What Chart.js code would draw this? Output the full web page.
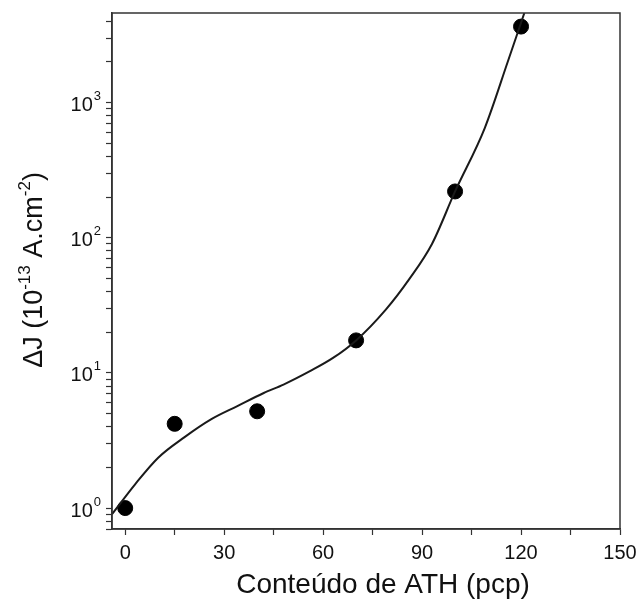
<!DOCTYPE html>
<html lang="pt">
<head>
<meta charset="UTF-8">
<title>ΔJ vs Conteúdo de ATH</title>
<script src="https://cdn.jsdelivr.net/npm/chart.js"></script>
<style>
    * { margin: 0; padding: 0; box-sizing: border-box; }
    body { background: #fff; }
    .wrap { width: 639px; height: 600px; position: relative; }
</style>
</head>
<body>
<div class="wrap"><canvas id="chart"></canvas></div>
<script>
    // measured points (pcp ATH vs ΔJ)
    const athContent = [0, 15, 40, 70, 100, 120];
    const deltaJ = [1.0, 4.2, 5.2, 17.4, 220, 3650];

    // fitted curve
    const fitX = [-4, 3, 10, 18, 26, 34, 42, 48, 56, 63, 70, 79, 86, 93, 100, 109, 116, 121];
    const fitY = [0.9, 1.5, 2.36, 3.35, 4.53, 5.68, 7.1, 8.2, 10.3, 12.9, 17.4, 29.4, 49, 90, 220, 648, 2013, 4600];

    // ticks
    const xTicks = [0, 15, 30, 45, 60, 75, 90, 105, 120, 135, 150];
    const xLabelled = [0, 30, 60, 90, 120, 150];
    const yDecades = [0.1, 1, 10, 100, 1000];

    const FONT = "'Liberation Sans', Arial, sans-serif";
    const INK = '#111';
    const AXIS = '#333';

    const toXY = (xs, ys) => xs.map((x, i) => ({ x: x, y: ys[i] }));

    // draws a run of [text, size, shift] pieces centred on 0
    function drawRuns(ctx, parts) {
        let total = 0;
        parts.forEach(p => { ctx.font = p[1] + 'px ' + FONT; total += ctx.measureText(p[0]).width; });
        let x = -total / 2;
        parts.forEach(p => {
            ctx.font = p[1] + 'px ' + FONT;
            ctx.fillText(p[0], x, p[2]);
            x += ctx.measureText(p[0]).width;
        });
    }

    // frame, superscript y labels and axis titles
    const decor = {
        id: 'decor',
        afterDraw(chart) {
            const ctx = chart.ctx;
            const a = chart.chartArea;
            const ys = chart.scales.y;
            ctx.save();
            ctx.strokeStyle = AXIS;
            ctx.lineWidth = 1.5;
            ctx.strokeRect(a.left, a.top, a.right - a.left, a.bottom - a.top);

            ctx.fillStyle = INK;
            ctx.textBaseline = 'middle';
            ys.ticks.forEach(t => {
                const e = Math.round(Math.log10(t.value));
                if (Math.abs(Math.log10(t.value) - e) > 1e-9) return;
                const y = ys.getPixelForValue(t.value);
                const sup = String(e);
                ctx.font = '13px ' + FONT;
                const sw = ctx.measureText(sup).width;
                const right = a.left - 11;
                ctx.textAlign = 'left';
                ctx.fillText(sup, right - sw, y - 6);
                ctx.font = '20px ' + FONT;
                ctx.textAlign = 'right';
                ctx.fillText('10', right - sw - 1, y + 3);
            });

            ctx.textAlign = 'left';
            ctx.textBaseline = 'alphabetic';

            // x title
            ctx.save();
            ctx.translate(383, 593);
            drawRuns(ctx, [['Conteúdo de ATH (pcp)', 28, 0]]);
            ctx.restore();

            // ΔJ (10^-13 A.cm^-2)
            ctx.translate(33, 270);
            ctx.rotate(-Math.PI / 2);
            drawRuns(ctx, [
                ['ΔJ (10', 27, 9],
                ['-13', 17, -3],
                [' A.cm', 27, 9],
                ['-2', 17, -3],
                [')', 27, 9]
            ]);
            ctx.restore();
        }
    };

    new Chart(document.getElementById('chart'), {
        type: 'scatter',
        data: {
            datasets: [
                {
                    label: 'ajuste',
                    data: toXY(fitX, fitY),
                    showLine: true,
                    borderColor: '#1a1a1a',
                    borderWidth: 2,
                    pointRadius: 0,
                    cubicInterpolationMode: 'monotone'
                },
                {
                    label: 'ΔJ',
                    data: toXY(athContent, deltaJ),
                    pointRadius: 7.5,
                    pointBackgroundColor: '#000',
                    pointBorderColor: '#000'
                }
            ]
        },
        options: {
            responsive: true,
            maintainAspectRatio: false,
            animation: false,
            layout: { padding: { top: 13, right: 19, left: 0, bottom: 0 } },
            plugins: { legend: { display: false }, tooltip: { enabled: false } },
            scales: {
                x: {
                    type: 'linear',
                    min: -4,
                    max: 150,
                    afterBuildTicks: s => { s.ticks = xTicks.map(v => ({ value: v })); },
                    afterFit: s => { s.height = 71; s.paddingLeft = 0; s.paddingRight = 0; },
                    ticks: {
                        autoSkip: false,
                        maxRotation: 0,
                        padding: 6,
                        color: INK,
                        font: { family: FONT, size: 20 },
                        callback: v => xLabelled.includes(v) ? String(v) : ''
                    },
                    grid: { drawOnChartArea: false, tickLength: 6, color: AXIS, tickWidth: 1.2 },
                    border: { color: AXIS, width: 1.5 }
                },
                y: {
                    type: 'logarithmic',
                    min: 0.7,
                    max: 4600,
                    afterBuildTicks: s => {
                        const t = [];
                        yDecades.forEach(d => {
                            for (let m = 1; m <= 9; m++) {
                                const v = m * d;
                                if (v >= s.min - 1e-9 && v <= s.max) t.push({ value: v, major: m === 1 });
                            }
                        });
                        s.ticks = t;
                    },
                    afterFit: s => { s.width = 112; s.paddingTop = 0; s.paddingBottom = 0; },
                    ticks: { display: false, autoSkip: false },
                    grid: { drawOnChartArea: false, tickLength: 6, color: AXIS, tickWidth: 1.2 },
                    border: { color: AXIS, width: 1.5 }
                }
            }
        },
        plugins: [decor]
    });
</script>
</body>
</html>
